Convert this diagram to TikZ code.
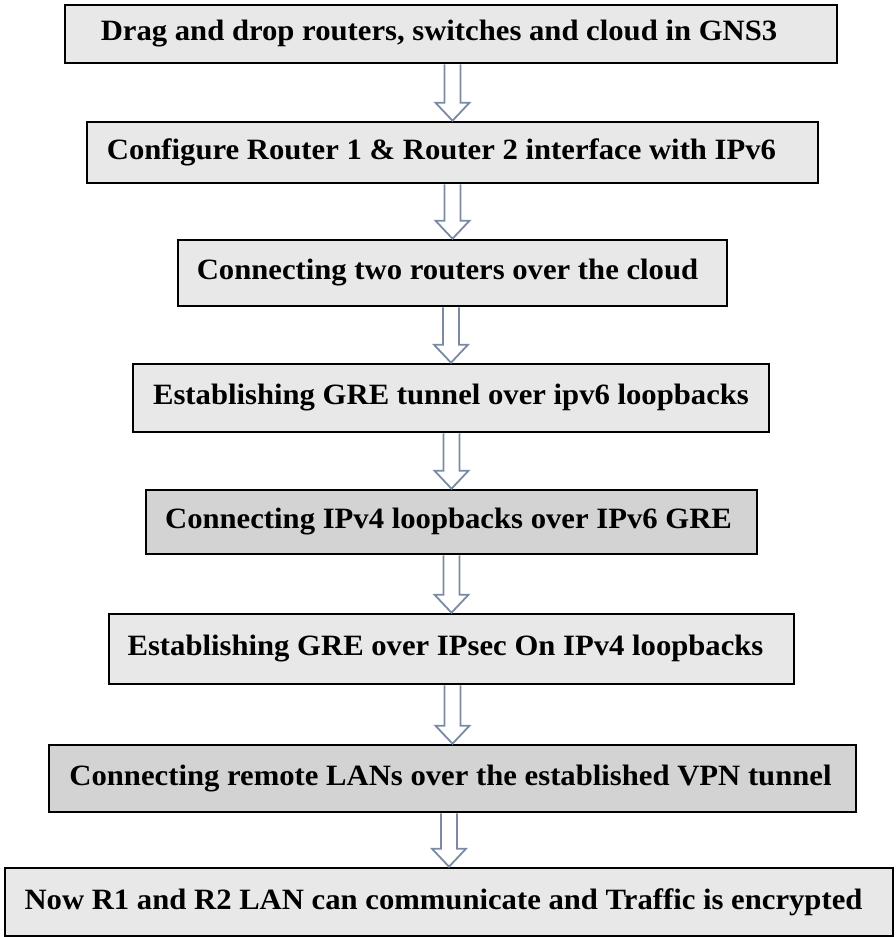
\documentclass[tikz,border=0pt]{standalone}
\usepackage{fontspec}
\setmainfont[FakeStretch=1.04]{Liberation Serif}
\usetikzlibrary{calc}

\definecolor{lightfill}{RGB}{232,232,232}
\definecolor{darkfill}{RGB}{211,211,211}
\definecolor{arrowline}{RGB}{122,138,165}

% hollow block arrow from the bottom of #1 to the top of #2
\newcommand{\flowarrow}[2]{%
  \draw[hollowarrow] ($(#1.south -| #2.north)+(-8,0)$) -- ($(#2.north)+(-8,-18)$)
    -- ($(#2.north)+(-17,-18)$) -- (#2.north) -- ($(#2.north)+(17,-18)$)
    -- ($(#2.north)+(8,-18)$) -- ($(#1.south -| #2.north)+(8,0)$);}

\begin{document}
\begin{tikzpicture}[x=1pt, y=-1pt,
    flowbox/.style={draw=black, line width=2.6pt, fill=lightfill, inner sep=0pt,
      font=\fontsize{29.5}{32}\selectfont\bfseries},
    darkbox/.style={flowbox, fill=darkfill},
    textleft/.style={execute at end node={\hspace*{#1pt}}},
    hollowarrow/.style={draw=arrowline, line width=1.8pt, line join=miter}]
  \useasboundingbox (0,0) rectangle (895,937);

  \node[flowbox, textleft=24, minimum width=772, minimum height=58] (drag) at (451,34)
    {Drag and drop routers, switches and cloud in GNS3};
  \node[flowbox, textleft=22, minimum width=731, minimum height=61] (config) at (452.5,152.5)
    {Configure Router 1 \& Router 2 interface with IPv6};
  \node[flowbox, textleft=10, minimum width=549, minimum height=66] (cloud) at (452.5,273)
    {Connecting two routers over the cloud};
  \node[flowbox, minimum width=636, minimum height=68] (gre) at (451,398)
    {Establishing GRE tunnel over ipv6 loopbacks};
  \node[darkbox, textleft=6, minimum width=611, minimum height=64] (loopv4) at (451.5,522)
    {Connecting IPv4 loopbacks over IPv6 GRE};
  \node[flowbox, textleft=12, minimum width=685, minimum height=70] (ipsec) at (451.5,649)
    {Establishing GRE over IPsec On IPv4 loopbacks};
  \node[darkbox, textleft=4, minimum width=807, minimum height=67] (lans) at (452.5,778.5)
    {Connecting remote LANs over the established VPN tunnel};
  \node[flowbox, textleft=11, minimum width=888, minimum height=68] (done) at (449,902)
    {Now R1 and R2 LAN can communicate and Traffic is encrypted};

  \flowarrow{drag}{config}
  \flowarrow{config}{cloud}
  \flowarrow{cloud}{gre}
  \flowarrow{gre}{loopv4}
  \flowarrow{loopv4}{ipsec}
  \flowarrow{ipsec}{lans}
  \flowarrow{lans}{done}
\end{tikzpicture}
\end{document}
